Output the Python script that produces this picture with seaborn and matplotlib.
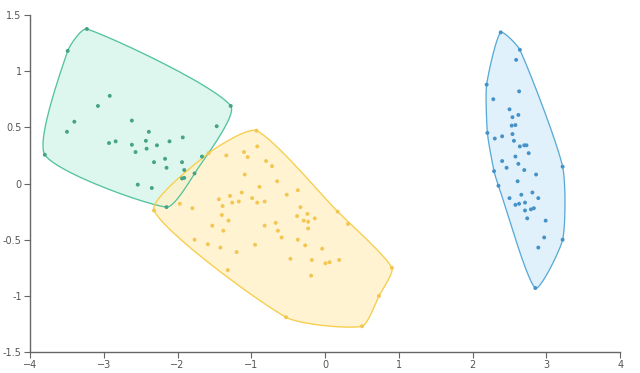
import numpy as np
import pandas as pd
import seaborn as sns
import matplotlib
matplotlib.use("Agg")
import matplotlib.pyplot as plt

# datos
verde_x = [-3.23, -3.49, -3.80, -2.15, -1.28, -3.50, -3.40, -3.08, -2.92, -2.93,
           -2.84, -2.62, -2.62, -2.57, -2.43, -2.39, -2.42, -2.28, -2.11, -1.93,
           -2.32, -2.17, -2.15, -1.94, -1.91, -2.54, -2.35, -1.94, -1.91, -1.77,
           -1.67, -1.47]
verde_y = [1.375, 1.18, 0.256, -0.21, 0.69, 0.46, 0.55, 0.69, 0.78, 0.36,
           0.375, 0.56, 0.345, 0.28, 0.38, 0.46, 0.31, 0.34, 0.375, 0.41,
           0.19, 0.22, 0.14, 0.19, 0.12, -0.01, -0.04, 0.045, 0.05, 0.09,
           0.24, 0.51]

amarillo_x = [-0.93, -2.32, -1.32, -0.53, 0.50, 0.905, 0.73, 0.31, 0.17, -1.58,
              -1.97, -1.34, -1.10, -1.05, -0.92, -0.80, -0.72, -1.09, -0.65, -0.89,
              -0.52, -0.37, -1.13, -1.29, -1.44, -1.26, -1.17, -0.99, -0.92, -0.82,
              -1.39, -1.80, -1.40, -1.31, -1.53, -1.38, -1.77, -1.59, -1.42, -1.20,
              -0.95, -0.82, -0.67, -0.64, -0.59, -0.38, -0.335, -0.24, -0.29, -0.23,
              -0.14, -0.23, -0.37, -0.27, -0.04, -0.47, -0.18, 0.005, 0.06, 0.19,
              -0.19]
amarillo_y = [0.47, -0.24, -0.77, -1.19, -1.27, -0.75, -1.0, -0.36, -0.25, 0.27,
              -0.18, 0.25, 0.28, 0.235, 0.33, 0.20, 0.155, 0.08, 0.02, -0.03,
              -0.10, -0.06, -0.08, -0.11, -0.14, -0.17, -0.16, -0.13, -0.17, -0.16,
              -0.20, -0.22, -0.28, -0.33, -0.375, -0.42, -0.50, -0.54, -0.57, -0.61,
              -0.545, -0.375, -0.35, -0.42, -0.48, -0.29, -0.21, -0.27, -0.33, -0.34,
              -0.31, -0.40, -0.50, -0.55, -0.58, -0.67, -0.68, -0.71, -0.70, -0.68,
              -0.82]

azul_x = [2.38, 2.64, 2.19, 2.20, 2.29, 2.35, 2.85, 3.22, 3.22, 2.59,
          2.63, 2.28, 2.50, 2.54, 2.62, 2.53, 2.58, 2.54, 2.40, 2.30,
          2.56, 2.64, 2.70, 2.73, 2.76, 2.58, 2.40, 2.46, 2.62, 2.70,
          2.86, 2.61, 2.66, 2.81, 2.89, 2.50, 2.58, 2.63, 2.71, 2.71,
          2.79, 2.83, 2.74, 2.99, 2.97, 2.89]
azul_y = [1.345, 1.19, 0.88, 0.45, 0.11, -0.02, -0.93, -0.50, 0.15, 1.10,
          0.82, 0.75, 0.66, 0.59, 0.61, 0.515, 0.52, 0.44, 0.42, 0.40,
          0.38, 0.33, 0.34, 0.34, 0.27, 0.24, 0.20, 0.14, 0.175, 0.12,
          0.08, 0.02, -0.10, -0.08, -0.13, -0.13, -0.19, -0.18, -0.17, -0.24,
          -0.23, -0.22, -0.31, -0.33, -0.48, -0.57]

df = pd.concat([
    pd.DataFrame({'x': verde_x, 'y': verde_y, 'grupo': 'verde'}),
    pd.DataFrame({'x': amarillo_x, 'y': amarillo_y, 'grupo': 'amarillo'}),
    pd.DataFrame({'x': azul_x, 'y': azul_y, 'grupo': 'azul'}),
], ignore_index=True)

colores_punto = {'verde': '#45a386', 'amarillo': '#f2c650', 'azul': '#4592c8'}
colores_borde = {'verde': '#52c29c', 'amarillo': '#f6cd4a', 'azul': '#58aad6'}
colores_fondo = {'verde': '#d3f5e9', 'amarillo': '#fff0c4', 'azul': '#d8edfa'}


def casco_convexo(pts):
    pts = sorted(set(pts))
    def cruz(o, a, b):
        return (a[0] - o[0]) * (b[1] - o[1]) - (a[1] - o[1]) * (b[0] - o[0])
    abajo, arriba = [], []
    for p in pts:
        while len(abajo) >= 2 and cruz(abajo[-2], abajo[-1], p) <= 0:
            abajo.pop()
        abajo.append(p)
    for p in reversed(pts):
        while len(arriba) >= 2 and cruz(arriba[-2], arriba[-1], p) <= 0:
            arriba.pop()
        arriba.append(p)
    return np.array(abajo[:-1] + arriba[:-1])


def suavizar(h, n=24, esc=1.52, k=0.6):
    # hermite cerrado con tangentes reducidas (en unidades parecidas a pixeles)
    h = h * np.array([1.0, esc])
    m = len(h)
    res = []
    for i in range(m):
        p0, p1, p2, p3 = h[i - 1], h[i], h[(i + 1) % m], h[(i + 2) % m]
        d01 = np.linalg.norm(p1 - p0)
        d12 = np.linalg.norm(p2 - p1)
        d23 = np.linalg.norm(p3 - p2)
        m1 = k * (p2 - p0) * d12 / (d01 + d12)
        m2 = k * (p3 - p1) * d12 / (d12 + d23)
        t = np.linspace(0, 1, n, endpoint=False)[:, None]
        h00 = 2 * t ** 3 - 3 * t ** 2 + 1
        h10 = t ** 3 - 2 * t ** 2 + t
        h01 = -2 * t ** 3 + 3 * t ** 2
        h11 = t ** 3 - t ** 2
        res.append(h00 * p1 + h10 * m1 + h01 * p2 + h11 * m2)
    res = np.vstack(res)
    res = np.vstack([res, res[:1]])
    return res / np.array([1.0, esc])


sns.set_style('white')
fig = plt.figure(figsize=(6.4, 3.73), dpi=100)
ax = fig.add_axes([0.047, 0.056, 0.922, 0.904])

for g in ['verde', 'amarillo', 'azul']:
    sub = df[df['grupo'] == g]
    h = casco_convexo(list(zip(sub['x'], sub['y'])))
    curva = suavizar(h)
    ax.fill(curva[:, 0], curva[:, 1], color=colores_fondo[g], alpha=0.75, zorder=1)
    ax.plot(curva[:, 0], curva[:, 1], color=colores_borde[g], lw=0.9, zorder=2)

sns.scatterplot(data=df, x='x', y='y', hue='grupo', palette=colores_punto,
                s=8, linewidth=0, legend=False, ax=ax, zorder=3)

ax.set_xlim(-4, 4)
ax.set_ylim(-1.5, 1.5)
ax.set_xticks(range(-4, 5))
ax.set_yticks([-1.5, -1, -0.5, 0, 0.5, 1, 1.5])
ax.set_yticklabels(['-1.5', '-1', '-0.5', '0', '0.5', '1', '1.5'])
ax.set_xlabel('')
ax.set_ylabel('')
for lado in ['top', 'right']:
    ax.spines[lado].set_visible(False)
for lado in ['left', 'bottom']:
    ax.spines[lado].set_color('#666666')
    ax.spines[lado].set_linewidth(1)
ax.tick_params(axis='both', direction='out', length=4, width=0.8, color='#666666',
               labelsize=7, labelcolor='#555555', pad=2)
ax.tick_params(axis='x', bottom=True)
ax.tick_params(axis='y', left=True)

fig.savefig('out.png', dpi=100)
